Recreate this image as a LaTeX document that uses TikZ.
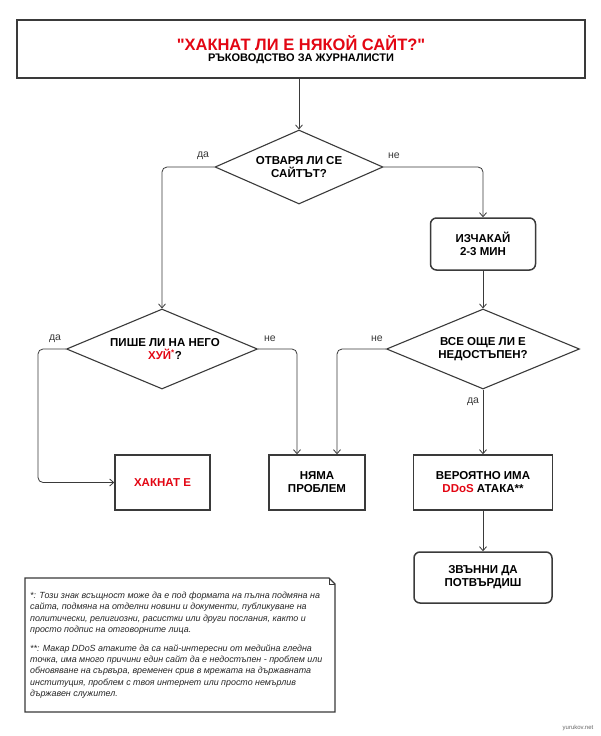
\documentclass[tikz,border=0pt]{standalone}
\usepackage{fontspec}
\setmainfont{Liberation Sans}[Ligatures=TeXOff]
\usetikzlibrary{arrows.meta,shapes.geometric}
\definecolor{ddred}{HTML}{E30613}
\definecolor{lineg}{HTML}{3A3A3A}
\begin{document}
\begin{tikzpicture}[x=1pt,y=-1pt,
  boxsq/.style={draw=lineg, line width=1.5pt, fill=white, inner sep=0pt, align=center,
    font=\bfseries\fontsize{11.5}{13}\selectfont},
  boxrd/.style={boxsq, rounded corners=6pt},
  dia/.style={draw=lineg, line width=1.1pt, diamond, inner sep=0pt, fill=white},
  diatext/.style={align=center, inner sep=0pt, font=\bfseries\fontsize{11.5}{13}\selectfont},
  conn/.style={draw=lineg, line width=0.8pt, rounded corners=5pt, -{Straight Barb[length=4pt,width=7pt]}},
  lbl/.style={inner sep=0pt, font=\fontsize{10.5}{12}\selectfont, text=lineg},
  notefont/.style={inner sep=0pt, align=left, font=\itshape\fontsize{8.9}{11.3}\selectfont, text=black!85}
]
\useasboundingbox (0,0) rectangle (600,736);
\fill[white] (0,0) rectangle (600,736);

% title
\node[boxsq, minimum width=568pt, minimum height=58pt] (title) at (301,49) {};
\node[inner sep=0pt, font=\bfseries\fontsize{16.5}{18}\selectfont, text=ddred] (titlet) at (301,43.5) {"ХАКНАТ ЛИ Е НЯКОЙ САЙТ?"};
\node[inner sep=0pt, font=\bfseries\fontsize{11}{13}\selectfont] (titles) at (301,59) {РЪКОВОДСТВО ЗА ЖУРНАЛИСТИ};

% diamonds
\node[dia, minimum width=168pt, minimum height=74pt] (d1) at (299,167) {};
\node[diatext] (d1t) at (299,167) {ОТВАРЯ ЛИ СЕ\\САЙТЪТ?};
\node[dia, minimum width=191pt, minimum height=80pt] (d2) at (162,349) {};
\node[diatext] (d2t) at (165,349) {ПИШЕ ЛИ НА НЕГО\\{\color{ddred}ХУЙ\textsuperscript{*}}?};
\node[dia, minimum width=193pt, minimum height=80pt] (d3) at (483,349) {};
\node[diatext] (d3t) at (483,349) {ВСЕ ОЩЕ ЛИ Е\\НЕДОСТЪПЕН?};

% boxes
\node[boxrd, minimum width=105pt, minimum height=52pt] (wait) at (483,244) {ИЗЧАКАЙ\\2-3 МИН};
\node[boxsq, minimum width=95pt, minimum height=55pt] (hack) at (162.5,482.5) {\color{ddred}ХАКНАТ Е};
\node[boxsq, minimum width=96pt, minimum height=55pt] (noprob) at (317,482.5) {НЯМА\\ПРОБЛЕМ};
\node[boxsq, minimum width=139pt, minimum height=55pt] (ddos) at (483,482.5) {ВЕРОЯТНО ИМА\\{\color{ddred}DDoS} АТАКА**};
\node[boxrd, minimum width=138pt, minimum height=51pt] (call) at (483,577.5) {ЗВЪННИ ДА\\ПОТВЪРДИШ};

% connectors
\coordinate (lx) at (38,0);
\draw[conn] (d1.north |- title.south) -- (d1.north);
\draw[conn] (d1.west) -| (d2.north);
\draw[conn] (d1.east) -| (wait.north);
\draw[conn] (wait.south) -- (d3.north);
\draw[conn] (d2.west) -| (lx |- hack.west) -- (hack.west);
\draw[conn] (d2.east) -| ([xshift=-20pt]noprob.north);
\draw[conn] (d3.west) -| ([xshift=20pt]noprob.north);
\draw[conn] (d3.south) -- (ddos.north);
\draw[conn] (ddos.south) -- (call.north);

% labels
\node[lbl] (l1) at (203,156) {да};
\node[lbl] (l2) at (394,156) {не};
\node[lbl] (l3) at (55,339) {да};
\node[lbl] (l4) at (270,339) {не};
\node[lbl] (l5) at (377,339) {не};
\node[lbl] (l6) at (473,402) {да};

% note
\draw[draw=lineg, line width=1.2pt, fill=white] (25,578) -- (329,578) -- (335,584) -- (335,712) -- (25,712) -- cycle;
\draw[draw=lineg, line width=0.8pt] (329,578) -- (329,584) -- (335,584);
\node[notefont, anchor=north west] (note) at (30,592) {%
*: Този знак всъщност може да е под формата на пълна подмяна на\\
сайта, подмяна на отделни новини и документи, публикуване на\\
политически, религиозни, расистки или други послания, както и\\
просто подпис на отговорните лица.\\[7.5pt]
**: Макар DDoS атаките да са най-интересни от медийна гледна\\
точка, има много причини един сайт да е недостъпен - проблем или\\
обновяване на сървъра, временен срив в мрежата на държавната\\
институция, проблем с твоя интернет или просто немърлив\\
държавен служител.};

% watermark
\node[inner sep=0pt, font=\fontsize{6}{7}\selectfont, text=black!60] (wm) at (578,728) {yurukov.net};
\end{tikzpicture}
\end{document}
